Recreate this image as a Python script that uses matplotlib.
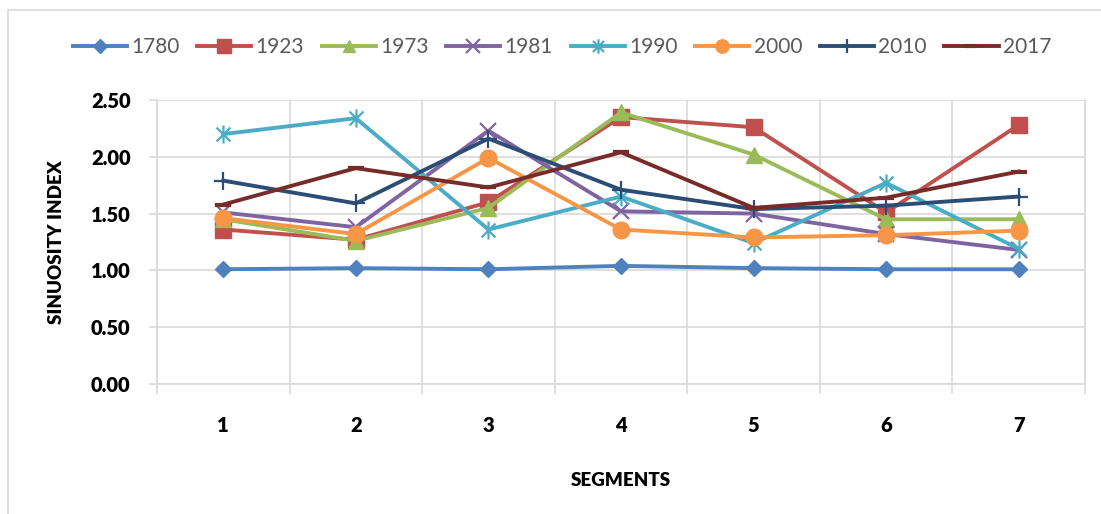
import matplotlib
matplotlib.use("Agg")
import matplotlib.pyplot as plt
from matplotlib.path import Path
from matplotlib.lines import Line2D

plt.rcParams['font.family'] = ['Lato', 'DejaVu Sans']

segments = [1, 2, 3, 4, 5, 6, 7]
years = ["1780", "1923", "1973", "1981", "1990", "2000", "2010", "2017"]

s1780 = [1.01, 1.02, 1.01, 1.04, 1.02, 1.01, 1.01]
s1923 = [1.36, 1.27, 1.60, 2.35, 2.26, 1.51, 2.28]
s1973 = [1.45, 1.26, 1.55, 2.39, 2.02, 1.45, 1.45]
s1981 = [1.51, 1.38, 2.23, 1.52, 1.50, 1.32, 1.18]
s1990 = [2.20, 2.34, 1.36, 1.65, 1.24, 1.77, 1.19]
s2000 = [1.46, 1.32, 1.99, 1.36, 1.29, 1.31, 1.35]
s2010 = [1.79, 1.59, 2.16, 1.71, 1.54, 1.57, 1.65]
s2017 = [1.58, 1.90, 1.73, 2.04, 1.55, 1.64, 1.87]

series = [s1780, s1923, s1973, s1981, s1990, s2000, s2010, s2017]
colors = ["#4F81BD", "#C0504D", "#9BBB59", "#8064A2", "#4BACC6",
          "#F79646", "#2C4D75", "#772C2A"]

# Asterisk marker: an X crossed by a vertical stroke
star = Path([(-1, -1), (1, 1), (-1, 1), (1, -1), (0, -1.3), (0, 1.3)],
            [Path.MOVETO, Path.LINETO, Path.MOVETO, Path.LINETO,
             Path.MOVETO, Path.LINETO])

markers = ["D", "s", "^", "x", star, "o", "+", "_"]
msizes = [8.5, 12, 11, 12, 13, 12, 13, 11]
mews = [1, 1, 1, 1.6, 1.6, 1, 1.6, 3]

fig = plt.figure(figsize=(11.01, 5.14), dpi=100)
ax = fig.add_axes([157 / 1101, 1 - 384 / 514, (1085 - 157) / 1101, (384 - 100) / 514])

grid_c = "#D9D9D9"
for vals, c, m, ms, mew in zip(series, colors, markers, msizes, mews):
    ax.plot(segments, vals, color=c, lw=2.8, marker=m, ms=ms,
            mfc=c, mec=c, mew=mew, solid_joinstyle="round", zorder=3)

ax.set_xlim(0.5, 7.5)
ax.set_ylim(0, 2.5)
ax.set_yticks([0, 0.5, 1.0, 1.5, 2.0, 2.5])
ax.set_yticklabels([f"{v:.2f}" for v in [0, 0.5, 1.0, 1.5, 2.0, 2.5]])
ax.set_xticks(segments)
ax.set_xticks([0.5 + i for i in range(8)], minor=True)
ax.tick_params(axis="x", which="major", length=0, pad=23, labelsize=14.5)
ax.tick_params(axis="x", which="minor", length=7, color=grid_c, width=1.2)
ax.tick_params(axis="y", length=6, color=grid_c, width=1.2, pad=13, labelsize=14.5)
for lab in ax.get_xticklabels() + ax.get_yticklabels():
    lab.set_fontweight("heavy")

ax.grid(axis="y", which="major", color=grid_c, lw=1.2, zorder=0)
ax.grid(axis="x", which="minor", color=grid_c, lw=1.2, zorder=0)
ax.set_axisbelow(True)
ax.spines["top"].set_visible(False)
for side in ["left", "bottom", "right"]:
    ax.spines[side].set_color(grid_c)
    ax.spines[side].set_linewidth(1.2)

ax.set_ylabel("SINUOSITY INDEX", fontsize=13.5, fontweight="heavy")
ax.yaxis.set_label_coords(-92 / 928, 0.5)
ax.set_xlabel("SEGMENTS", fontsize=13.5, fontweight="heavy")
ax.xaxis.set_label_coords(0.5, -88 / 284)

handles = [Line2D([], [], color=c, lw=2.8, marker=m, ms=ms * 0.8, mfc=c, mec=c, mew=mew)
           for c, m, ms, mew in zip(colors, markers, msizes, mews)]
leg = fig.legend(handles, years, loc="center", bbox_to_anchor=(562 / 1101, 1 - 47 / 514),
                 ncol=8, frameon=False, fontsize=15, handlelength=2.6,
                 handletextpad=0.2, columnspacing=0.85, labelcolor="#595959")

# chart frame
fig.add_artist(Line2D([8 / 1101, 8 / 1101], [0, 1 - 10 / 514], color=grid_c, lw=1.2))
fig.add_artist(Line2D([8 / 1101, 1], [1 - 10 / 514, 1 - 10 / 514], color=grid_c, lw=1.2))

fig.savefig("out.png", dpi=100)
